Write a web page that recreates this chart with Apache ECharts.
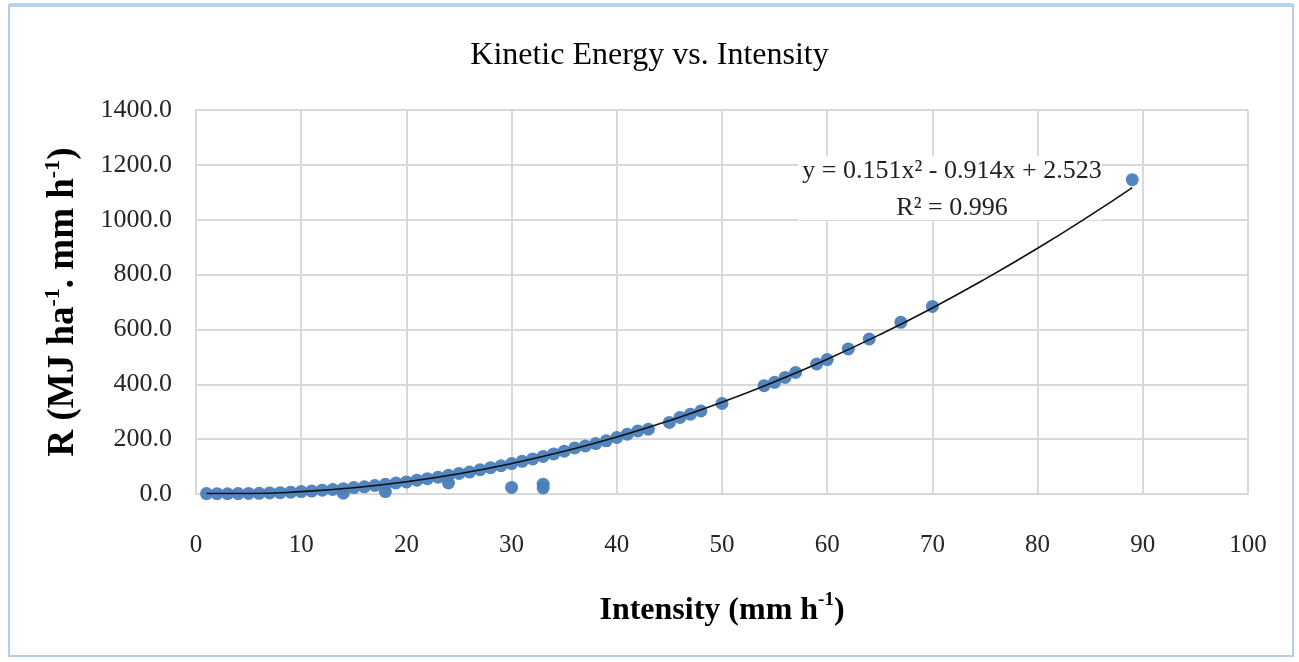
<!DOCTYPE html>
<html>
<head>
<meta charset="utf-8">
<title>Kinetic Energy vs. Intensity</title>
<script src="https://cdn.jsdelivr.net/npm/echarts@6/dist/echarts.min.js"></script>
<style>
    html, body { margin: 0; padding: 0; background: #fff; }
    #kinetic_chart { width: 1299px; height: 662px; }
</style>
</head>
<body>
<div id="kinetic_chart"></div>
<script>

// Data
// ------------------------------

// Intensity (mm h-1) of each observation
var intensity = [
    1, 2, 3, 4, 5, 6, 7, 8, 9, 10,
    11, 12, 13, 14, 14, 15, 16, 17, 18, 18,
    19, 20, 21, 22, 23, 24, 24, 25, 26, 27,
    28, 29, 30, 30, 31, 32, 33, 33, 33, 34,
    35, 36, 37, 38, 39, 40, 41, 42, 43, 45,
    46, 47, 48, 50, 54, 55, 56, 57, 59, 60,
    62, 64, 67, 70, 89
];

// Kinetic energy R (MJ ha-1 . mm h-1) of each observation
var energy = [
    1.6, 1.2, 1.0, 1.4, 2.0, 2.6, 3.8, 5.0, 6.8, 8.9,
    10.5, 13.8, 16.5, 19.0, 3.0, 23.5, 26.0, 31.0, 35.5, 9.0,
    40.0, 44.0, 50.5, 56.0, 61.0, 68.0, 40.0, 75.0, 80.0, 88.5,
    96.0, 103.0, 111.0, 24.0, 119.0, 128.0, 137.0, 22.0, 36.0, 146.0,
    156.0, 168.0, 175.0, 184.0, 194.0, 206.0, 218.0, 230.0, 236.0, 261.0,
    279.0, 291.0, 303.0, 330.0, 395.0, 407.0, 425.0, 443.0, 474.0, 490.0,
    529.0, 565.0, 626.0, 684.0, 1146.0
];

// Polynomial trendline, points
var trendX = [1, 5, 10, 15, 20, 25, 30, 35, 40, 45, 50, 55, 60, 65, 70, 75, 80, 85, 89];
var trendY = [1.8, 1.7, 8.5, 22.8, 44.6, 74.0, 111.0, 155.5, 207.6, 267.2, 334.3, 409.0, 491.3, 581.1, 678.4, 783.4, 895.8, 1015.8, 1117.2];

// Axis ticks
var xTicks = { min: 0, max: 100, step: 10 };
var yTicks = { min: 0, max: 1400, step: 200 };

var equationText = 'y = 0.151x² - 0.914x + 2.523';
var r2Text = 'R² = 0.996';


// Setup chart
// ------------------------------

var KineticChart = function() {

    var serif = '"Liberation Serif", "Times New Roman", serif';
    var gridColor = '#d9d9d9';
    var labelColor = '#262626';

    var _kineticChart = function() {
        if (typeof echarts == 'undefined') {
            console.warn('Warning - echarts.min.js is not loaded.');
            return;
        }

        var element = document.getElementById('kinetic_chart');
        if (!element) {
            return;
        }

        var chart = echarts.init(element);

        var points = intensity.map(function(x, i) {
            return [x, energy[i]];
        });
        var trend = trendX.map(function(x, i) {
            return [x, trendY[i]];
        });

        chart.setOption({
            animation: false,
            backgroundColor: '#ffffff',

            // Title
            title: {
                text: 'Kinetic Energy vs. Intensity',
                left: 'center',
                top: 35,
                textStyle: {
                    fontFamily: serif,
                    fontSize: 32,
                    fontWeight: 'normal',
                    color: '#000'
                }
            },

            grid: {
                left: 196,
                right: 51,
                top: 110,
                bottom: 168
            },

            xAxis: {
                type: 'value',
                min: xTicks.min,
                max: xTicks.max,
                interval: xTicks.step,
                name: '{n|Intensity (mm h}{s|-1}{n|)}',
                nameLocation: 'middle',
                nameGap: 93,
                nameTextStyle: {
                    rich: {
                        n: { fontFamily: serif, fontSize: 32, fontWeight: 'bold', color: '#000', lineHeight: 40, verticalAlign: 'bottom' },
                        s: { fontFamily: serif, fontSize: 19, fontWeight: 'bold', color: '#000', lineHeight: 40, verticalAlign: 'top', padding: [4, 0, 0, 0] }
                    }
                },
                axisLine: { show: true, lineStyle: { color: gridColor, width: 2 } },
                axisTick: { show: false },
                axisLabel: {
                    margin: 39,
                    fontFamily: serif,
                    fontSize: 25,
                    color: labelColor
                },
                splitLine: { show: true, lineStyle: { color: gridColor, width: 2 } }
            },

            yAxis: {
                type: 'value',
                min: yTicks.min,
                max: yTicks.max,
                interval: yTicks.step,
                name: '{n|R (MJ ha}{s|-1}{n|. mm h}{s|-1}{n|)}',
                nameLocation: 'middle',
                nameRotate: 90,
                nameGap: 114,
                nameTextStyle: {
                    rich: {
                        n: { fontFamily: serif, fontSize: 37, fontWeight: 'bold', color: '#000', lineHeight: 44, verticalAlign: 'bottom' },
                        s: { fontFamily: serif, fontSize: 22, fontWeight: 'bold', color: '#000', lineHeight: 44, verticalAlign: 'top', padding: [4, 0, 0, 0] }
                    }
                },
                axisLine: { show: true, lineStyle: { color: gridColor, width: 2 } },
                axisTick: { show: false },
                axisLabel: {
                    margin: 24,
                    fontFamily: serif,
                    fontSize: 26,
                    color: labelColor,
                    formatter: function(v) { return v.toFixed(1); }
                },
                splitLine: { show: true, lineStyle: { color: gridColor, width: 2 } }
            },

            series: [{
                name: 'R',
                type: 'scatter',
                symbol: 'circle',
                symbolSize: 13,
                itemStyle: { color: '#4a7ebb', opacity: 0.95 },
                data: points,
                z: 2
            }, {
                name: 'Poly. (R)',
                type: 'line',
                smooth: true,
                showSymbol: false,
                lineStyle: { color: '#111', width: 1.6 },
                data: trend,
                z: 3
            }],

            // Trendline equation and frame
            graphic: [{
                type: 'rect',
                shape: { x: 798, y: 156, width: 304, height: 64 },
                style: { fill: '#ffffff' },
                z: 1,
                silent: true
            }, {
                type: 'text',
                x: 952,
                y: 171,
                z: 11,
                style: {
                    text: equationText,
                    fontFamily: serif,
                    fontSize: 26,
                    fill: '#222',
                    align: 'center',
                    verticalAlign: 'middle'
                }
            }, {
                type: 'text',
                x: 952,
                y: 208,
                z: 11,
                style: {
                    text: r2Text,
                    fontFamily: serif,
                    fontSize: 26,
                    fill: '#222',
                    align: 'center',
                    verticalAlign: 'middle'
                }
            }, {
                type: 'rect',
                shape: { x: 9, y: 5, width: 1284, height: 651 },
                style: { fill: 'none', stroke: '#b3cdea', lineWidth: 2 },
                silent: true
            }, {
                type: 'rect',
                shape: { x: 9, y: 3, width: 1284, height: 4 },
                style: { fill: '#b9d1ec' },
                silent: true
            }]
        });

        window.addEventListener('resize', function() {
            chart.resize();
        });
    };

    return {
        init: function() {
            _kineticChart();
        }
    };
}();

document.addEventListener('DOMContentLoaded', function() {
    KineticChart.init();
});
</script>
</body>
</html>
